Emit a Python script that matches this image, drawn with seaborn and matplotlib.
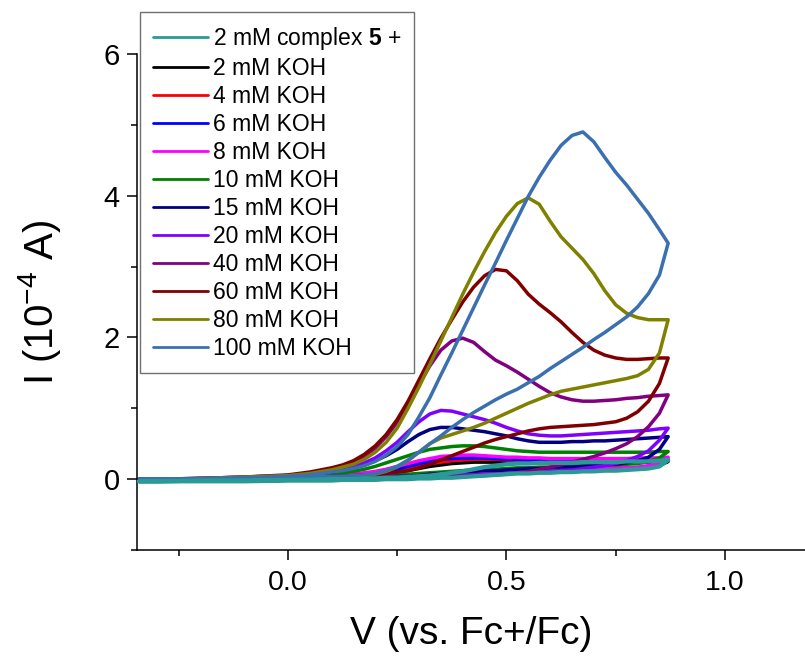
import matplotlib
matplotlib.use("Agg")
import matplotlib.pyplot as plt
from matplotlib.ticker import FixedLocator, MultipleLocator
import pandas as pd
import seaborn as sns

# Potential grid (V vs. Fc+/Fc): forward sweep, then the return sweep
V_FWD = [-0.34, -0.30, -0.20, -0.10, 0.00, 0.05, 0.10, 0.125, 0.15, 0.175,
         0.20, 0.225, 0.25, 0.275, 0.30, 0.325, 0.35, 0.375, 0.40, 0.425,
         0.45, 0.475, 0.50, 0.525, 0.55, 0.575, 0.60, 0.625, 0.65, 0.675,
         0.70, 0.725, 0.75, 0.775, 0.80, 0.825, 0.85, 0.87]
V_REV = V_FWD[-2::-1]

# Currents (1e-4 A)
I_CPLX_F = [-0.03, -0.03, -0.02, -0.02, -0.01, -0.01, 0.00, 0.00, 0.00, 0.01,
            0.01, 0.02, 0.02, 0.03, 0.04, 0.05, 0.07, 0.09, 0.11, 0.14,
            0.17, 0.19, 0.21, 0.22, 0.22, 0.23, 0.23, 0.23, 0.23, 0.24,
            0.24, 0.24, 0.24, 0.25, 0.25, 0.25, 0.26, 0.27]
I_CPLX_R = [0.18, 0.15, 0.14, 0.13, 0.12, 0.12, 0.11, 0.11, 0.10, 0.10,
            0.09, 0.09, 0.08, 0.08, 0.07, 0.06, 0.05, 0.04, 0.03, 0.02,
            0.02, 0.01, 0.01, 0.00, 0.00, 0.00, -0.01, -0.01, -0.01, -0.01,
            -0.02, -0.02, -0.02, -0.03, -0.03, -0.03, -0.03]

I_2_F = [-0.01, -0.01, 0.00, 0.01, 0.02, 0.03, 0.04, 0.05, 0.05, 0.06,
         0.07, 0.08, 0.10, 0.12, 0.15, 0.18, 0.20, 0.22, 0.23, 0.24,
         0.24, 0.24, 0.24, 0.24, 0.23, 0.23, 0.23, 0.23, 0.23, 0.23,
         0.23, 0.23, 0.23, 0.23, 0.23, 0.24, 0.24, 0.25]
I_2_R = [0.19, 0.16, 0.15, 0.14, 0.14, 0.13, 0.13, 0.12, 0.12, 0.12,
         0.11, 0.11, 0.10, 0.10, 0.09, 0.08, 0.07, 0.06, 0.05, 0.04,
         0.04, 0.03, 0.03, 0.02, 0.02, 0.02, 0.01, 0.01, 0.01, 0.01,
         0.00, 0.00, 0.00, -0.01, -0.01, -0.01, -0.01]

I_4_F = [-0.01, -0.01, 0.00, 0.01, 0.02, 0.03, 0.04, 0.05, 0.06, 0.07,
         0.08, 0.10, 0.12, 0.15, 0.19, 0.22, 0.24, 0.26, 0.27, 0.28,
         0.28, 0.28, 0.27, 0.27, 0.26, 0.26, 0.26, 0.26, 0.26, 0.26,
         0.26, 0.26, 0.26, 0.26, 0.26, 0.26, 0.27, 0.27]
I_4_R = [0.20, 0.17, 0.16, 0.15, 0.15, 0.14, 0.14, 0.13, 0.13, 0.13,
         0.12, 0.12, 0.11, 0.11, 0.10, 0.09, 0.08, 0.07, 0.06, 0.05,
         0.05, 0.04, 0.03, 0.03, 0.02, 0.02, 0.02, 0.01, 0.01, 0.01,
         0.01, 0.00, 0.00, -0.01, -0.01, -0.01, -0.01]

I_6_F = [-0.01, -0.01, 0.00, 0.01, 0.02, 0.03, 0.04, 0.05, 0.06, 0.07,
         0.09, 0.11, 0.14, 0.18, 0.22, 0.25, 0.28, 0.29, 0.30, 0.30,
         0.30, 0.29, 0.28, 0.28, 0.27, 0.27, 0.26, 0.26, 0.26, 0.26,
         0.26, 0.26, 0.26, 0.26, 0.26, 0.26, 0.27, 0.28]
I_6_R = [0.21, 0.18, 0.16, 0.15, 0.15, 0.14, 0.14, 0.14, 0.13, 0.13,
         0.13, 0.12, 0.12, 0.11, 0.10, 0.09, 0.08, 0.07, 0.06, 0.05,
         0.05, 0.04, 0.03, 0.03, 0.02, 0.02, 0.02, 0.01, 0.01, 0.01,
         0.01, 0.00, 0.00, -0.01, -0.01, -0.01, -0.01]

I_8_F = [-0.01, -0.01, 0.00, 0.01, 0.02, 0.03, 0.05, 0.06, 0.07, 0.09,
         0.11, 0.14, 0.18, 0.22, 0.26, 0.29, 0.32, 0.33, 0.34, 0.34,
         0.33, 0.32, 0.31, 0.31, 0.30, 0.30, 0.29, 0.29, 0.29, 0.29,
         0.29, 0.29, 0.29, 0.29, 0.30, 0.30, 0.30, 0.31]
I_8_R = [0.23, 0.19, 0.17, 0.16, 0.16, 0.15, 0.15, 0.15, 0.14, 0.14,
         0.14, 0.13, 0.13, 0.12, 0.11, 0.10, 0.09, 0.08, 0.07, 0.06,
         0.05, 0.04, 0.04, 0.03, 0.03, 0.02, 0.02, 0.02, 0.01, 0.01,
         0.01, 0.00, 0.00, -0.01, -0.01, -0.01, -0.01]

I_10_F = [-0.01, -0.01, 0.00, 0.01, 0.03, 0.05, 0.07, 0.09, 0.11, 0.14,
          0.18, 0.23, 0.28, 0.33, 0.38, 0.42, 0.44, 0.46, 0.47, 0.47,
          0.46, 0.44, 0.42, 0.40, 0.39, 0.38, 0.38, 0.38, 0.38, 0.38,
          0.38, 0.38, 0.38, 0.38, 0.38, 0.38, 0.39, 0.39]
I_10_R = [0.30, 0.25, 0.22, 0.21, 0.20, 0.20, 0.19, 0.19, 0.18, 0.18,
          0.17, 0.17, 0.16, 0.16, 0.15, 0.14, 0.14, 0.13, 0.12, 0.11,
          0.10, 0.09, 0.08, 0.07, 0.06, 0.05, 0.04, 0.03, 0.03, 0.02,
          0.02, 0.01, 0.01, 0.00, 0.00, -0.01, -0.01]

I_15_F = [-0.01, -0.01, 0.00, 0.01, 0.04, 0.06, 0.10, 0.13, 0.16, 0.20,
          0.26, 0.33, 0.42, 0.53, 0.63, 0.70, 0.73, 0.73, 0.71, 0.69,
          0.67, 0.64, 0.61, 0.57, 0.54, 0.52, 0.52, 0.52, 0.53, 0.53,
          0.54, 0.54, 0.55, 0.56, 0.57, 0.58, 0.59, 0.60]
I_15_R = [0.42, 0.31, 0.26, 0.23, 0.21, 0.20, 0.19, 0.18, 0.17, 0.17,
          0.16, 0.15, 0.15, 0.14, 0.13, 0.12, 0.12, 0.11, 0.10, 0.09,
          0.08, 0.07, 0.05, 0.04, 0.04, 0.03, 0.03, 0.02, 0.02, 0.01,
          0.01, 0.01, 0.00, 0.00, -0.01, -0.01, -0.01]

I_20_F = [-0.01, -0.01, 0.01, 0.02, 0.04, 0.07, 0.11, 0.14, 0.18, 0.23,
          0.30, 0.40, 0.52, 0.67, 0.81, 0.92, 0.97, 0.96, 0.92, 0.88,
          0.84, 0.79, 0.73, 0.68, 0.64, 0.62, 0.61, 0.61, 0.62, 0.63,
          0.64, 0.65, 0.66, 0.67, 0.68, 0.69, 0.71, 0.72]
I_20_R = [0.55, 0.40, 0.32, 0.26, 0.22, 0.19, 0.17, 0.15, 0.13, 0.12,
          0.11, 0.10, 0.09, 0.09, 0.08, 0.07, 0.07, 0.06, 0.06, 0.05,
          0.05, 0.04, 0.04, 0.04, 0.03, 0.03, 0.03, 0.02, 0.02, 0.02,
          0.01, 0.01, 0.00, 0.00, -0.01, -0.01, -0.01]

I_40_F = [0.00, 0.00, 0.01, 0.03, 0.05, 0.09, 0.14, 0.18, 0.24, 0.32,
          0.44, 0.60, 0.80, 1.05, 1.33, 1.60, 1.82, 1.95, 1.99, 1.93,
          1.80, 1.68, 1.60, 1.51, 1.41, 1.31, 1.22, 1.16, 1.12, 1.10,
          1.10, 1.11, 1.12, 1.14, 1.15, 1.17, 1.18, 1.19]
I_40_R = [0.93, 0.74, 0.60, 0.50, 0.43, 0.37, 0.32, 0.28, 0.24, 0.20,
          0.17, 0.14, 0.11, 0.09, 0.07, 0.06, 0.05, 0.05, 0.04, 0.04,
          0.04, 0.03, 0.03, 0.03, 0.02, 0.02, 0.02, 0.02, 0.01, 0.01,
          0.01, 0.01, 0.00, 0.00, 0.00, 0.00, 0.00]

I_60_F = [0.00, 0.00, 0.01, 0.03, 0.06, 0.10, 0.16, 0.20, 0.26, 0.35,
          0.47, 0.63, 0.84, 1.10, 1.40, 1.70, 1.99, 2.25, 2.50, 2.71,
          2.87, 2.96, 2.94, 2.80, 2.61, 2.47, 2.35, 2.22, 2.07, 1.93,
          1.82, 1.75, 1.71, 1.69, 1.69, 1.70, 1.71, 1.71]
I_60_R = [1.35, 1.10, 0.95, 0.86, 0.81, 0.79, 0.77, 0.76, 0.75, 0.74,
          0.73, 0.71, 0.68, 0.64, 0.60, 0.56, 0.51, 0.45, 0.39, 0.33,
          0.27, 0.21, 0.16, 0.12, 0.10, 0.08, 0.07, 0.06, 0.05, 0.04,
          0.04, 0.03, 0.02, 0.01, 0.00, 0.00, 0.00]

I_80_F = [0.00, 0.00, 0.01, 0.03, 0.05, 0.08, 0.13, 0.17, 0.21, 0.28,
          0.38, 0.52, 0.72, 1.00, 1.30, 1.62, 1.95, 2.28, 2.61, 2.92,
          3.21, 3.48, 3.71, 3.89, 3.97, 3.88, 3.64, 3.42, 3.26, 3.10,
          2.90, 2.66, 2.46, 2.34, 2.28, 2.25, 2.25, 2.25]
I_80_R = [1.78, 1.55, 1.46, 1.42, 1.39, 1.36, 1.33, 1.30, 1.27, 1.24,
          1.19, 1.13, 1.07, 1.00, 0.93, 0.86, 0.79, 0.73, 0.68, 0.63,
          0.58, 0.50, 0.38, 0.26, 0.17, 0.11, 0.07, 0.05, 0.04, 0.03,
          0.03, 0.02, 0.01, 0.00, 0.00, 0.00, 0.00]

I_100_F = [0.00, 0.00, 0.01, 0.02, 0.04, 0.06, 0.10, 0.12, 0.15, 0.19,
           0.25, 0.34, 0.46, 0.63, 0.88, 1.15, 1.47, 1.78, 2.10, 2.42,
           2.74, 3.05, 3.37, 3.68, 3.99, 4.26, 4.50, 4.71, 4.85, 4.90,
           4.76, 4.54, 4.33, 4.15, 3.95, 3.75, 3.52, 3.33]
I_100_R = [2.88, 2.62, 2.43, 2.29, 2.18, 2.07, 1.97, 1.86, 1.76, 1.66,
           1.56, 1.45, 1.36, 1.27, 1.20, 1.12, 1.03, 0.94, 0.84, 0.73,
           0.61, 0.50, 0.38, 0.27, 0.18, 0.12, 0.08, 0.06, 0.05, 0.04,
           0.04, 0.03, 0.02, 0.01, 0.00, 0.00, 0.00]

LABELS = ["2 mM KOH", "4 mM KOH", "6 mM KOH", "8 mM KOH", "10 mM KOH",
          "15 mM KOH", "20 mM KOH", "40 mM KOH", "60 mM KOH", "80 mM KOH",
          "100 mM KOH"]
COLORS = ["#000000", "#ff0000", "#0000ff", "#ff00ff", "#008000",
          "#000080", "#8000ff", "#800080", "#800000", "#808000",
          "#3a6fb0"]
FWD = [I_2_F, I_4_F, I_6_F, I_8_F, I_10_F, I_15_F, I_20_F, I_40_F,
       I_60_F, I_80_F, I_100_F]
REV = [I_2_R, I_4_R, I_6_R, I_8_R, I_10_R, I_15_R, I_20_R, I_40_R,
       I_60_R, I_80_R, I_100_R]
CPLX_LABEL = "2 mM complex $\\mathbf{5}$ +"
CPLX_COLOR = "#2a9a97"

sns.set_style("ticks")
plt.rcParams["font.family"] = ["Liberation Sans", "DejaVu Sans"]
plt.rcParams["mathtext.fontset"] = "custom"
plt.rcParams["mathtext.rm"] = "Liberation Sans"
plt.rcParams["mathtext.bf"] = "Liberation Sans:bold"
plt.rcParams["axes.linewidth"] = 1.1
plt.rcParams["text.color"] = "black"
plt.rcParams["axes.labelcolor"] = "black"
plt.rcParams["xtick.color"] = "black"
plt.rcParams["ytick.color"] = "black"
plt.rcParams["lines.solid_joinstyle"] = "round"
plt.rcParams["lines.solid_capstyle"] = "round"

fig = plt.figure(figsize=(8.05, 6.63), dpi=100)
ax = fig.add_axes([137 / 805, 113 / 663, 668 / 805, 496 / 663])


def cv_frame(i_fwd, i_rev):
    return pd.DataFrame({"V": list(V_FWD) + list(V_REV),
                         "I": list(i_fwd) + list(i_rev)})


LW = 2.5
for lab, col, f, r in zip(LABELS, COLORS, FWD, REV):
    sns.lineplot(data=cv_frame(f, r), x="V", y="I", sort=False,
                 estimator=None, color=col, lw=LW, label=lab, ax=ax)
sns.lineplot(data=cv_frame(I_CPLX_F, I_CPLX_R), x="V", y="I", sort=False,
             estimator=None, color=CPLX_COLOR, lw=LW + 0.6,
             label=CPLX_LABEL, ax=ax, zorder=5)

ax.set_xlim(-0.345, 1.183)
ax.set_ylim(-1, 6)
ax.xaxis.set_major_locator(FixedLocator([0.0, 0.5, 1.0]))
ax.xaxis.set_minor_locator(FixedLocator([-0.25, 0.25, 0.75]))
ax.yaxis.set_major_locator(FixedLocator([0, 2, 4, 6]))
ax.yaxis.set_minor_locator(MultipleLocator(1))
ax.set_xticklabels(["0.0", "0.5", "1.0"], fontsize=20.5)
ax.set_yticklabels(["0", "2", "4", "6"], fontsize=21)
ax.tick_params(which="major", direction="out", length=7.5, width=1.1,
               color="black", pad=5)
ax.tick_params(which="minor", direction="out", length=4.5, width=1.1,
               color="black")
ax.tick_params(axis="x", which="major", pad=7)

for side in ("top", "right"):
    ax.spines[side].set_visible(False)
for side in ("left", "bottom"):
    ax.spines[side].set_color("black")

ax.set_xlabel("V (vs. Fc+/Fc)", fontsize=28, labelpad=14)
ax.set_ylabel("I (10$^{-4}$ A)", fontsize=29, labelpad=29)

handles, labels = ax.get_legend_handles_labels()
order = [len(labels) - 1] + list(range(len(labels) - 1))
leg = ax.legend([handles[k] for k in order], [labels[k] for k in order],
                loc="upper left", bbox_to_anchor=(140 / 805, 1 - 12 / 663),
                bbox_transform=fig.transFigure, borderaxespad=0,
                fontsize=16.5, frameon=True, fancybox=False, framealpha=1,
                edgecolor="#707070", borderpad=0.55, labelspacing=0.22,
                handlelength=2.4, handletextpad=0.25)
leg.get_frame().set_linewidth(1.0)
for line in leg.get_lines():
    line.set_linewidth(2.0)

fig.savefig("out.png", dpi=100)
